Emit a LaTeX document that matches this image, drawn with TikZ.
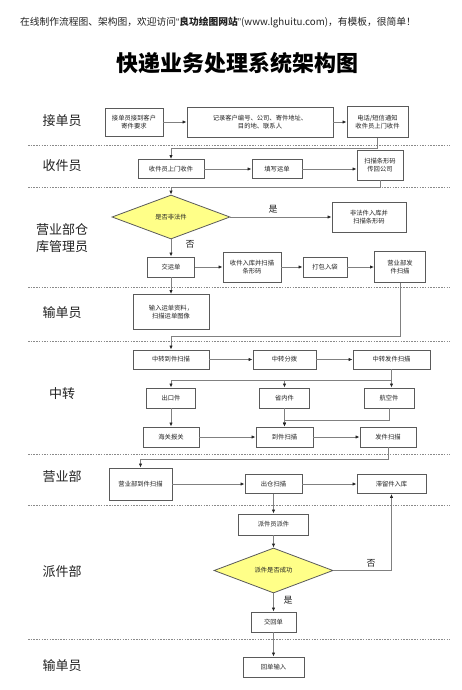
\documentclass[tikz,border=0pt]{standalone}
\usepackage{fontspec}
\setmainfont{Noto Sans CJK SC}
\newfontfamily\latinq{Liberation Sans}
\usetikzlibrary{arrows.meta,shapes.geometric,calc}
\definecolor{boxline}{HTML}{5A5A5A}
\definecolor{conn}{HTML}{808080}
\definecolor{dfill}{HTML}{FFFF88}
\definecolor{txt}{HTML}{222222}
\definecolor{sepc}{HTML}{8A8A8A}
\begin{document}
\begin{tikzpicture}[x=1pt,y=-1pt,
 box/.style={draw=boxline,line width=0.9pt,fill=white,inner sep=0pt,align=center,font=\fontsize{6.3}{8.5}\selectfont,text=txt},
 dec/.style={draw=boxline,line width=0.8pt,fill=dfill,shape=diamond,inner sep=0pt,font=\fontsize{6.3}{8}\selectfont,text=txt},
 arr/.style={draw=conn,line width=0.8pt,-{Latex[length=4pt,width=3.4pt,color=black!85]}},
 sepline/.style={draw=sepc,line width=0.6pt,dash pattern=on 1.5pt off 1.2pt},
 lane/.style={font=\fontsize{13}{17.5}\selectfont,text=txt,align=center},
 lab/.style={font=\fontsize{9}{10}\selectfont,text=txt}]
\useasboundingbox (0,0) rectangle (462,690);
\fill[white] (0,0) rectangle (462,690);

% header and title
\node[anchor=west,font=\fontsize{9.75}{11}\selectfont,text=txt,inner sep=0pt] (hdr) at (20,22) {在线制作流程图、架构图，欢迎访问{\latinq “}\textbf{良功绘图网站}{\latinq ”}(www.lghuitu.com)，有模板，很简单！};
\node[font=\fontsize{22}{26}\selectfont\bfseries,text=black] (title) at (237.5,63) {快递业务处理系统架构图};

% lane separators
\foreach \yy in {145,187,287,341,454,505,639}
  \draw[sepline] (28,\yy) -- (450,\yy);

% lane labels
\node[lane] (l1) at (62,121) {接单员};
\node[lane] (l2) at (62,166) {收件员};
\node[lane] (l3) at (62,238) {营业部仓\\库管理员};
\node[lane] (l4) at (62,313) {输单员};
\node[lane] (l5) at (62,394) {中转};
\node[lane] (l6) at (62,477) {营业部};
\node[lane] (l7) at (62,572) {派件部};
\node[lane] (l8) at (62,666) {输单员};

% junction levels
\coordinate (y148) at (0,148);
\coordinate (y187) at (0,187);
\coordinate (y336) at (0,336);
\coordinate (y380) at (0,380);
\coordinate (y420) at (0,420);
\coordinate (y459) at (0,459);

% nodes
\node[box,minimum width=58pt,minimum height=28pt] (n1) at (134,122) {接单员接到客户\\寄件要求};
\node[box,minimum width=146pt,minimum height=30pt] (n2) at (260,122) {记录客户编号、公司、寄件地址、\\目的地、联系人};
\node[box,minimum width=61pt,minimum height=31pt] (n3) at (377.5,122) {电话/短信通知\\收件员上门收件};

\node[box,minimum width=66pt,minimum height=19pt] (n4) at (171,169) {收件员上门收件};
\node[box,minimum width=50pt,minimum height=19pt] (n5) at (277,169) {填写运单};
\node[box,minimum width=46pt,minimum height=30pt] (n6) at (380,165) {扫描条形码\\传回公司};

\node[dec,minimum width=118pt,minimum height=44pt] (d1) at (171,217) {是否非法件};
\node[box,minimum width=74pt,minimum height=30pt] (n7) at (369,217) {非法件入库并\\扫描条形码};

\node[box,minimum width=47pt,minimum height=20pt] (n8) at (171,267) {交运单};
\node[box,minimum width=58pt,minimum height=30pt] (n9) at (252,267) {收件入库并扫描\\条形码};
\node[box,minimum width=44pt,minimum height=20pt] (n10) at (325,267) {打包入袋};
\node[box,minimum width=51pt,minimum height=31pt] (n11) at (400,267) {营业部发\\件扫描};

\node[box,minimum width=76pt,minimum height=35pt] (n12) at (171,312) {输入运单资料，\\扫描运单图像};

\node[box,minimum width=76pt,minimum height=19pt] (n13) at (171,359.5) {中转到件扫描};
\node[box,minimum width=63pt,minimum height=19pt] (n14) at (284.5,359.5) {中转分拨};
\node[box,minimum width=77pt,minimum height=19pt] (n15) at (391.5,359.5) {中转发件扫描};

\node[box,minimum width=49pt,minimum height=20pt] (n16) at (171,398) {出口件};
\node[box,minimum width=50pt,minimum height=20pt] (n17) at (284.5,398) {省内件};
\node[box,minimum width=50pt,minimum height=20pt] (n18) at (389,398) {航空件};

\node[box,minimum width=56pt,minimum height=20pt] (n19) at (171,437) {海关报关};
\node[box,minimum width=57pt,minimum height=20pt] (n20) at (284.5,437) {到件扫描};
\node[box,minimum width=56pt,minimum height=20pt] (n21) at (388,437) {发件扫描};

\node[box,minimum width=63pt,minimum height=32pt] (n22) at (140.5,484) {营业部到件扫描};
\node[box,minimum width=57pt,minimum height=19pt] (n23) at (273.5,484) {出仓扫描};
\node[box,minimum width=69pt,minimum height=19pt] (n24) at (391.5,484) {滞留件入库};

\node[box,minimum width=70pt,minimum height=21pt] (n25) at (273.5,524.5) {派件员派件};
\node[dec,minimum width=119pt,minimum height=45pt] (d2) at (273.5,570.5) {派件是否成功};
\node[box,minimum width=45pt,minimum height=20pt] (n26) at (273.5,622) {交回单};
\node[box,minimum width=61pt,minimum height=20pt] (n27) at (273.5,667) {回单输入};

% connectors
\draw[arr] (n1.east) -- (n2.west);
\draw[arr] (n2.east) -- (n3.west);
\draw[arr] (n3.south) -- (n3.south |- y148) -| (n4.north);
\draw[arr] (n4.east) -- (n5.west);
\draw[arr] (n5.east) -- (n5.east -| n6.west);
\draw[arr] (n6.south) -- (n6.south |- y187) -| (d1.north);
\draw[arr] (d1.east) -- (n7.west);
\draw[arr] (d1.south) -- (n8.north);
\draw[arr] (n8.east) -- (n9.west);
\draw[arr] (n9.east) -- (n10.west);
\draw[arr] (n10.east) -- (n11.west);
\draw[arr] (n8.south) -- (n12.north);
\draw[arr] (n11.south) -- (n11.south |- y336) -| (n13.north);
\draw[arr] (n13.east) -- (n14.west);
\draw[arr] (n14.east) -- (n15.west);
\draw[arr] (n15.south) -- (n15.south |- y380) -| (n16.north);
\draw[arr] (n15.south |- y380) -| (n17.north);
\draw[arr] (n15.south) -- (n15.south |- n18.north);
\draw[arr] (n16.south) -- (n19.north);
\draw[arr] (n17.south) -- (n20.north);
\draw[arr] (n18.south) -- (n18.south |- y420) -| (n20.north);
\draw[arr] (n19.east) -- (n20.west);
\draw[arr] (n20.east) -- (n21.west);
\draw[arr] (n21.south) -- (n21.south |- y459) -| (n22.north);
\draw[arr] (n22.east) -- (n23.west);
\draw[arr] (n23.east) -- (n24.west);
\draw[arr] (n23.south) -- (n25.north);
\draw[arr] (n25.south) -- (d2.north);
\draw[arr] (d2.east) -| (n24.south);
\draw[arr] (d2.south) -- (n26.north);
\draw[arr] (n26.south) -- (n27.north);

% edge labels
\node[lab] (yes1) at (273,209) {是};
\node[lab] (no1) at (190,244) {否};
\node[lab] (no2) at (371,563) {否};
\node[lab] (yes2) at (288,600) {是};
\end{tikzpicture}
\end{document}
